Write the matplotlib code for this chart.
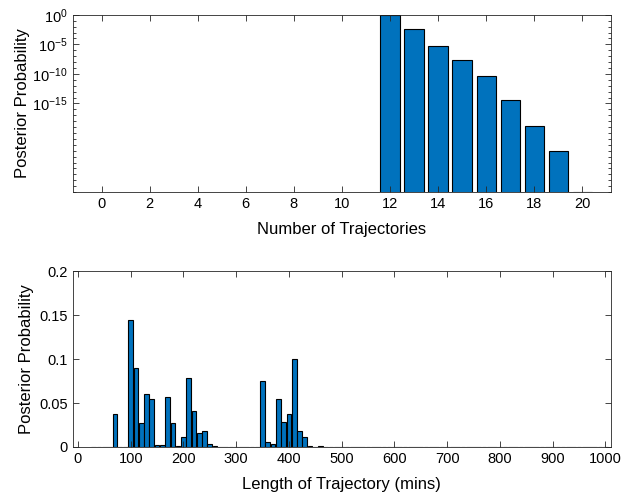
import numpy as np
import matplotlib.pyplot as plt
from matplotlib.ticker import FixedLocator, NullFormatter

plt.rcParams['font.family'] = ['Liberation Sans', 'DejaVu Sans']
plt.rcParams['mathtext.fontset'] = 'custom'
plt.rcParams['mathtext.rm'] = 'Liberation Sans'
plt.rcParams['mathtext.it'] = 'Liberation Sans'
plt.rcParams['axes.unicode_minus'] = False

# top panel: posterior over number of trajectories (log scale)
n_traj = list(range(0, 21))
n_prob = [0] * 12 + [1.0, 10**-2.4, 10**-5.2, 10**-7.6, 10**-10.4,
                     10**-14.4, 10**-18.8, 10**-23.0, 10**-29.95]

# bottom panel: posterior over trajectory length (10 min bins)
len_bins = list(range(30, 1001, 10))
len_vals = {70: 0.038, 100: 0.145, 110: 0.09, 120: 0.027, 130: 0.06, 140: 0.055,
            150: 0.0026, 160: 0.0023, 170: 0.0566, 180: 0.027, 190: 0.0015,
            200: 0.0117, 210: 0.0785, 220: 0.041, 230: 0.016, 240: 0.018,
            250: 0.0038, 260: 0.0015, 350: 0.075, 360: 0.0053, 370: 0.0034,
            380: 0.0547, 390: 0.028, 400: 0.038, 410: 0.1, 420: 0.018,
            430: 0.0117, 440: 0.0015, 450: 0.0005, 460: 0.0008}
len_prob = [len_vals.get(b, 0.0) for b in len_bins]

blue = '#0072BD'

fig = plt.figure(figsize=(6.32, 4.95), dpi=100)

ax1 = fig.add_axes([0.115, 0.612, 0.852, 0.358])
ax1.bar(n_traj, n_prob, width=0.8, color=blue, edgecolor='black', linewidth=0.8)
ax1.set_yscale('log', nonpositive='clip')
ax1.set_ylim(1e-30, 1)
ax1.set_xlim(-1.2, 21.2)
ax1.set_xticks(range(0, 21, 2))
ax1.set_yticks([1e-15, 1e-10, 1e-5, 1])
ax1.yaxis.set_minor_locator(FixedLocator([10.0**k for k in range(-30, 1)]))
ax1.yaxis.set_minor_formatter(NullFormatter())
ax1.set_yticklabels(['$10^{-15}$', '$10^{-10}$', '$10^{-5}$', '$10^{0}$'])
ax1.set_xlabel('Number of Trajectories', fontsize=12, labelpad=8)
ax1.set_ylabel('Posterior Probability', fontsize=12, labelpad=2)

ax2 = fig.add_axes([0.115, 0.097, 0.852, 0.355])
ax2.bar(len_bins, len_prob, width=8.8, color=blue, edgecolor='black', linewidth=0.8)
ax2.set_xlim(-10, 1011)
ax2.set_ylim(0, 0.2)
ax2.set_xticks(range(0, 1001, 100))
ax2.set_yticks([0, 0.05, 0.1, 0.15, 0.2])
ax2.set_yticklabels(['0', '0.05', '0.1', '0.15', '0.2'])
ax2.set_xlabel('Length of Trajectory (mins)', fontsize=12, labelpad=8)
ax2.set_ylabel('Posterior Probability', fontsize=12, labelpad=4)

for ax in (ax1, ax2):
    ax.tick_params(which='both', direction='in', top=True, right=True,
                   labelsize=10.5, color='#262626', width=0.6)
    ax.tick_params(which='major', length=4)
    ax.tick_params(which='minor', length=2)
    for s in ax.spines.values():
        s.set_color('#262626')
        s.set_linewidth(0.6)
ax2.tick_params(which='minor', left=False, right=False, bottom=False, top=False)

fig.savefig('out.png', dpi=100)
